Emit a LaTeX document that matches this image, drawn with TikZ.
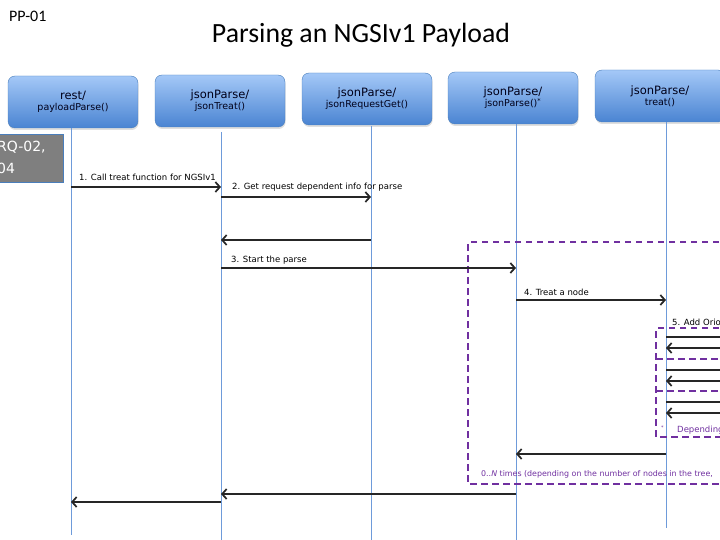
\documentclass[tikz,border=0pt]{standalone}
\usepackage{fontspec}
\setmainfont{DejaVu Sans}
\newfontfamily\titlefont{Carlito}
\usetikzlibrary{arrows.meta,shadows}
\definecolor{boxtop}{HTML}{A4C8F7}
\definecolor{boxbot}{HTML}{4A84D2}
\definecolor{boxedge}{HTML}{4A7EBB}
\definecolor{lifeblue}{HTML}{6E9BDA}
\definecolor{loopviolet}{HTML}{7030A0}
\definecolor{reqgray}{HTML}{7F7F7F}
\tikzset{
	lifebox/.style = {draw=boxedge, rounded corners=7pt, minimum width=130pt, minimum height=52pt,
		top color=boxtop, bottom color=boxbot, align=center, inner sep=0pt, text=black!90!blue,
		drop shadow={shadow xshift=0.6pt, shadow yshift=-2pt, opacity=0.25}},
	lifeline/.style = {draw=lifeblue, line width=1pt},
	msg/.style = {draw=black!85, line width=1.2pt, -{Straight Barb[length=4.5pt,width=10pt,line width=1.7pt]}},
	msglabel/.style = {anchor=west, inner sep=0pt, font=\fontsize{8.5}{10}\selectfont},
	loopbox/.style = {draw=loopviolet, line width=1.3pt, dash pattern=on 6.5pt off 4.5pt},
	looplabel/.style = {msglabel, text=loopviolet}
}
\newcommand{\boxtext}[2]{{\fontsize{11.5}{13}\selectfont #1}\\[-1pt]{\fontsize{9.5}{12}\selectfont #2}}

\begin{document}
\begin{tikzpicture}[x=1pt,y=-1pt]
	\useasboundingbox (0,0) rectangle (720,540);
	% headings
	\node [anchor=base west, inner sep=0pt, font=\titlefont\fontsize{16}{18}\selectfont] (pp) at (9,21.7) {PP-01};
	\node [anchor=base, inner sep=0pt, font=\titlefont\fontsize{27.8}{30}\selectfont] (title) at (361,42.3) {Parsing an NGSIv1 Payload};
	% participants
	\node [lifebox] (rest) at (73,102) {\boxtext{rest/}{payloadParse()}};
	\node [lifebox] (treat) at (220,101) {\boxtext{jsonParse/}{jsonTreat()}};
	\node [lifebox] (reqget) at (367,99) {\boxtext{jsonParse/}{jsonRequestGet()}};
	\node [lifebox] (parse) at (513,98) {\boxtext{jsonParse/}{jsonParse()\textsuperscript{*}}};
	\node [lifebox] (node) at (660,96) {\boxtext{jsonParse/}{treat()}};
	% requirement tag
	\node [draw=boxedge, fill=reqgray, minimum width=66pt, minimum height=48pt, inner sep=0pt] (req) at (30,158) {};
	\node [anchor=north west, align=left, inner sep=0pt, text=white, font=\fontsize{14}{22}\selectfont] (reqtext) at (-3,141) {RQ-02,\\04};
	% lifelines
	\coordinate (l1) at (71,128);  \coordinate (e1) at (71,535);
	\coordinate (l2) at (221,132); \coordinate (e2) at (221,540);
	\coordinate (l3) at (371,126); \coordinate (e3) at (371,540);
	\coordinate (l4) at (516,124); \coordinate (e4) at (516,540);
	\coordinate (l5) at (666,122); \coordinate (e5) at (666,528);
	\coordinate (l6) at (816,122);
	\foreach \i in {1,...,5}
		\draw [lifeline] (l\i) -- (e\i);
	% loops
	\draw [loopbox] (730,242) -- (468,242) -- (468,484) -- (730,484);
	\draw [loopbox] (730,328) -- (656,328) -- (656,437) -- (730,437);
	\draw [loopbox] (656,359) -- (730,359);
	\draw [loopbox] (656,391) -- (730,391);
	% messages
	\node [msglabel] (m1) at (79,177) {1. Call treat function for NGSIv1};
	\draw [msg] (l1 |- 0,187) -- (l2 |- 0,187);
	\node [msglabel] (m2) at (232,187) {2. Get request dependent info for parse};
	\draw [msg] (l2 |- 0,197) -- (l3 |- 0,197);
	\draw [msg] (l3 |- 0,240) -- (l2 |- 0,240);
	\node [msglabel] (m3) at (231,260) {3. Start the parse};
	\draw [msg] (l2 |- 0,268) -- (l4 |- 0,268);
	\node [msglabel] (m4) at (524,292) {4. Treat a node};
	\draw [msg] (l4 |- 0,300) -- (l5 |- 0,300);
	\node [msglabel] (m5) at (672,322) {5. Add Orion};
	\foreach \y in {337,370,402} {
		\draw [msg] (l5 |- 0,\y) -- (l6 |- 0,\y);
		\draw [msg] (l6 |- 0,\y+11) -- (l5 |- 0,\y+11);
	}
	\node [looplabel, font=\fontsize{5}{6}\selectfont] (star) at (661,428) {*};
	\node [looplabel] (dep) at (677,430) {Depending};
	\draw [msg] (l5 |- 0,454) -- (l4 |- 0,454);
	\node [looplabel, font=\fontsize{7.9}{9}\selectfont] (times) at (481,474) {0..\textit{N} times (depending on the number of nodes in the tree,};
	\draw [msg] (l4 |- 0,494) -- (l2 |- 0,494);
	\draw [msg] (l2 |- 0,502) -- (l1 |- 0,502);
\end{tikzpicture}
\end{document}
